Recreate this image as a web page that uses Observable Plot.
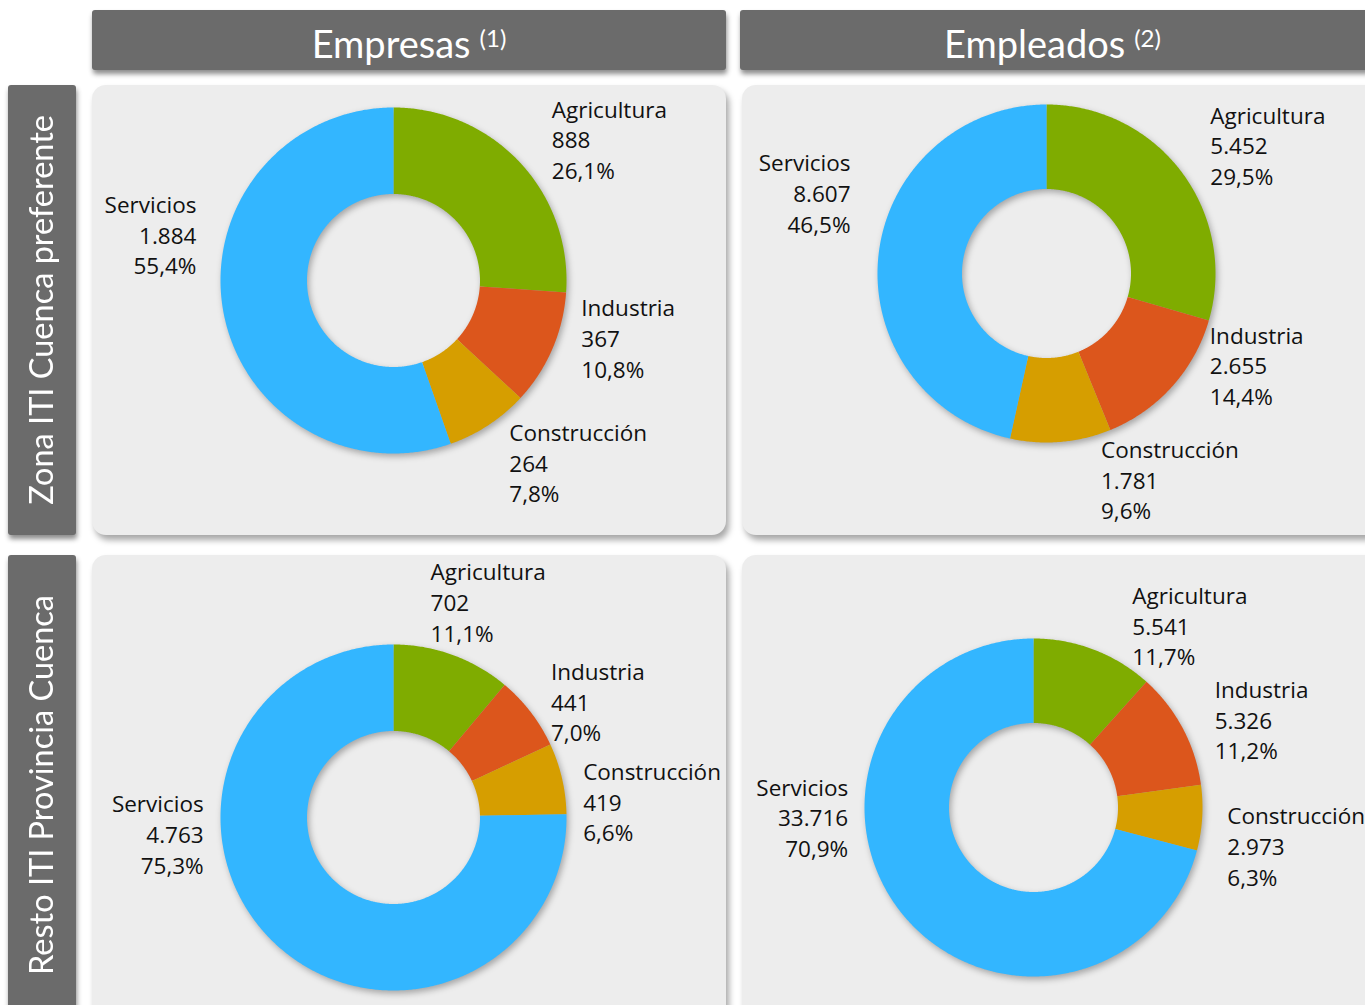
<!DOCTYPE html>
<html><head><meta charset="utf-8">
<script src="https://cdn.jsdelivr.net/npm/d3@7"></script>
<script src="https://cdn.jsdelivr.net/npm/@observablehq/plot@0.6"></script>
<style>
html,body{margin:0;padding:0;background:#fff;}
#page{position:relative;width:1365px;height:1005px;overflow:hidden;background:#fff;}
.hdr{position:absolute;background:#6b6b6b;color:#fff;border-radius:3px;box-shadow:1px 4px 5px rgba(0,0,0,0.45);display:flex;align-items:center;justify-content:center;font-family:Lato,"Noto Sans",sans-serif;}
.col{font-size:38px;padding-top:6px;box-sizing:border-box;}
.col sup{font-size:24px;position:relative;top:3px;margin-left:9px;}
.rowh span{writing-mode:vertical-rl;transform:rotate(180deg);white-space:nowrap;font-size:32.5px;margin-left:-3px;}
.panel{position:absolute;background:#ededed;border-radius:14px;box-shadow:3px 5px 6px rgba(0,0,0,0.35);overflow:hidden;}
.panel svg g[aria-label="line"]{filter:drop-shadow(2px 3px 3px rgba(0,0,0,0.3));}
</style>
</head><body>
<div id="page"></div>
<script>
// ---- data ----
const categories = ["Agricultura", "Industria", "Construcción", "Servicios"];
const colors = ["#7fac00", "#dc561c", "#d69e00", "#33b6ff"];
const columnTitles = ["Empresas", "Empleados"];
const columnNotes = ["(1)", "(2)"];
const rowTitles = ["Zona ITI Cuenca preferente", "Resto ITI Provincia Cuenca"];
const empresasZona = [888, 367, 264, 1884];
const empleadosZona = [5452, 2655, 1781, 8607];
const empresasResto = [702, 441, 419, 4763];
const empleadosResto = [5541, 5326, 2973, 33716];

// ---- layout ----
const INNER = 0.5;
const LABEL_R = 1.22;
const panels = [
  {values: empresasZona,  left: 92,  top: 85,  w: 634, h: 450, cx: 301, cy: 195, r: 173,
   nudge: [[4,2],[-6,-27],[0,5],[11,-82]]},
  {values: empleadosZona, left: 742, top: 85,  w: 640, h: 450, cx: 304, cy: 188, r: 169,
   nudge: [[-1,-5],[10,-47],[37,0],[9,-59]]},
  {values: empresasResto, left: 92,  top: 555, w: 634, h: 470, cx: 301, cy: 262, r: 173,
   nudge: [[-35,-18],[-10,12],[-16,31],[-42,-135]]},
  {values: empleadosResto,left: 742, top: 555, w: 640, h: 470, cx: 291, cy: 252, r: 169,
   nudge: [[25,10],[-1,8],[-12,25],[-22,-117]]}
];

const loc = d3.formatLocale({decimal: ",", thousands: ".", grouping: [3], currency: ["", "€"]});
const fmtN = loc.format(",d");
const fmtP = loc.format(".1f");

const page = document.getElementById("page");
function addDiv(cls, css, html) {
  const d = document.createElement("div");
  d.className = cls;
  Object.assign(d.style, css);
  if (html != null) d.innerHTML = html;
  page.appendChild(d);
  return d;
}

// column headers
addDiv("hdr col", {left: "92px", top: "10px", width: "634px", height: "60px"},
  `<span>${columnTitles[0]}<sup>${columnNotes[0]}</sup></span>`);
addDiv("hdr col", {left: "740px", top: "10px", width: "640px", height: "60px", paddingRight: "15px"},
  `<span>${columnTitles[1]}<sup>${columnNotes[1]}</sup></span>`);
// row headers
addDiv("hdr rowh", {left: "8px", top: "85px", width: "68px", height: "450px"}, `<span>${rowTitles[0]}</span>`);
addDiv("hdr rowh", {left: "8px", top: "555px", width: "68px", height: "460px"}, `<span>${rowTitles[1]}</span>`);

for (const P of panels) {
  const total = d3.sum(P.values);
  let acc = 0;
  const slices = P.values.map((v, i) => {
    const a0 = acc / total * 2 * Math.PI;
    acc += v;
    const a1 = acc / total * 2 * Math.PI;
    return {cat: categories[i], v, a0, a1, pct: v / total * 100, i};
  });
  const pts = [];
  for (const s of slices) {
    const n = Math.max(2, Math.ceil((s.a1 - s.a0) / (Math.PI / 360)));
    for (let k = 0; k <= n; k++) {
      const a = s.a0 + (s.a1 - s.a0) * k / n;
      pts.push({cat: s.cat, x: Math.sin(a), y: Math.cos(a)});
    }
    for (let k = n; k >= 0; k--) {
      const a = s.a0 + (s.a1 - s.a0) * k / n;
      pts.push({cat: s.cat, x: INNER * Math.sin(a), y: INNER * Math.cos(a)});
    }
  }
  const labels = slices.map(s => {
    const m = (s.a0 + s.a1) / 2;
    const [nx, ny] = P.nudge[s.i];
    return {
      x: LABEL_R * Math.sin(m) + nx / P.r,
      y: LABEL_R * Math.cos(m) - ny / P.r,
      right: Math.sin(m) >= 0,
      text: `${s.cat}\n${fmtN(s.v)}\n${fmtP(s.pct)}%`
    };
  });
  const textOpts = {x: "x", y: "y", text: "text", lineAnchor: "middle", lineHeight: 1.36, fontSize: 22.5, fill: "#111"};
  const chart = Plot.plot({
    width: P.w, height: P.h,
    margin: 0,
    style: {background: "transparent", overflow: "visible", fontFamily: "'Open Sans', sans-serif"},
    x: {domain: [-P.cx / P.r, (P.w - P.cx) / P.r], axis: null},
    y: {domain: [-(P.h - P.cy) / P.r, P.cy / P.r], axis: null},
    color: {domain: categories, range: colors},
    marks: [
      Plot.line(pts, {x: "x", y: "y", z: "cat", fill: "cat", stroke: "none", curve: "linear"}),
      Plot.text(labels.filter(d => d.right), {...textOpts, textAnchor: "start"}),
      Plot.text(labels.filter(d => !d.right), {...textOpts, textAnchor: "end"})
    ]
  });
  const d = addDiv("panel", {left: P.left + "px", top: P.top + "px", width: P.w + "px", height: P.h + "px"});
  d.appendChild(chart);
}
</script>
</body></html>
